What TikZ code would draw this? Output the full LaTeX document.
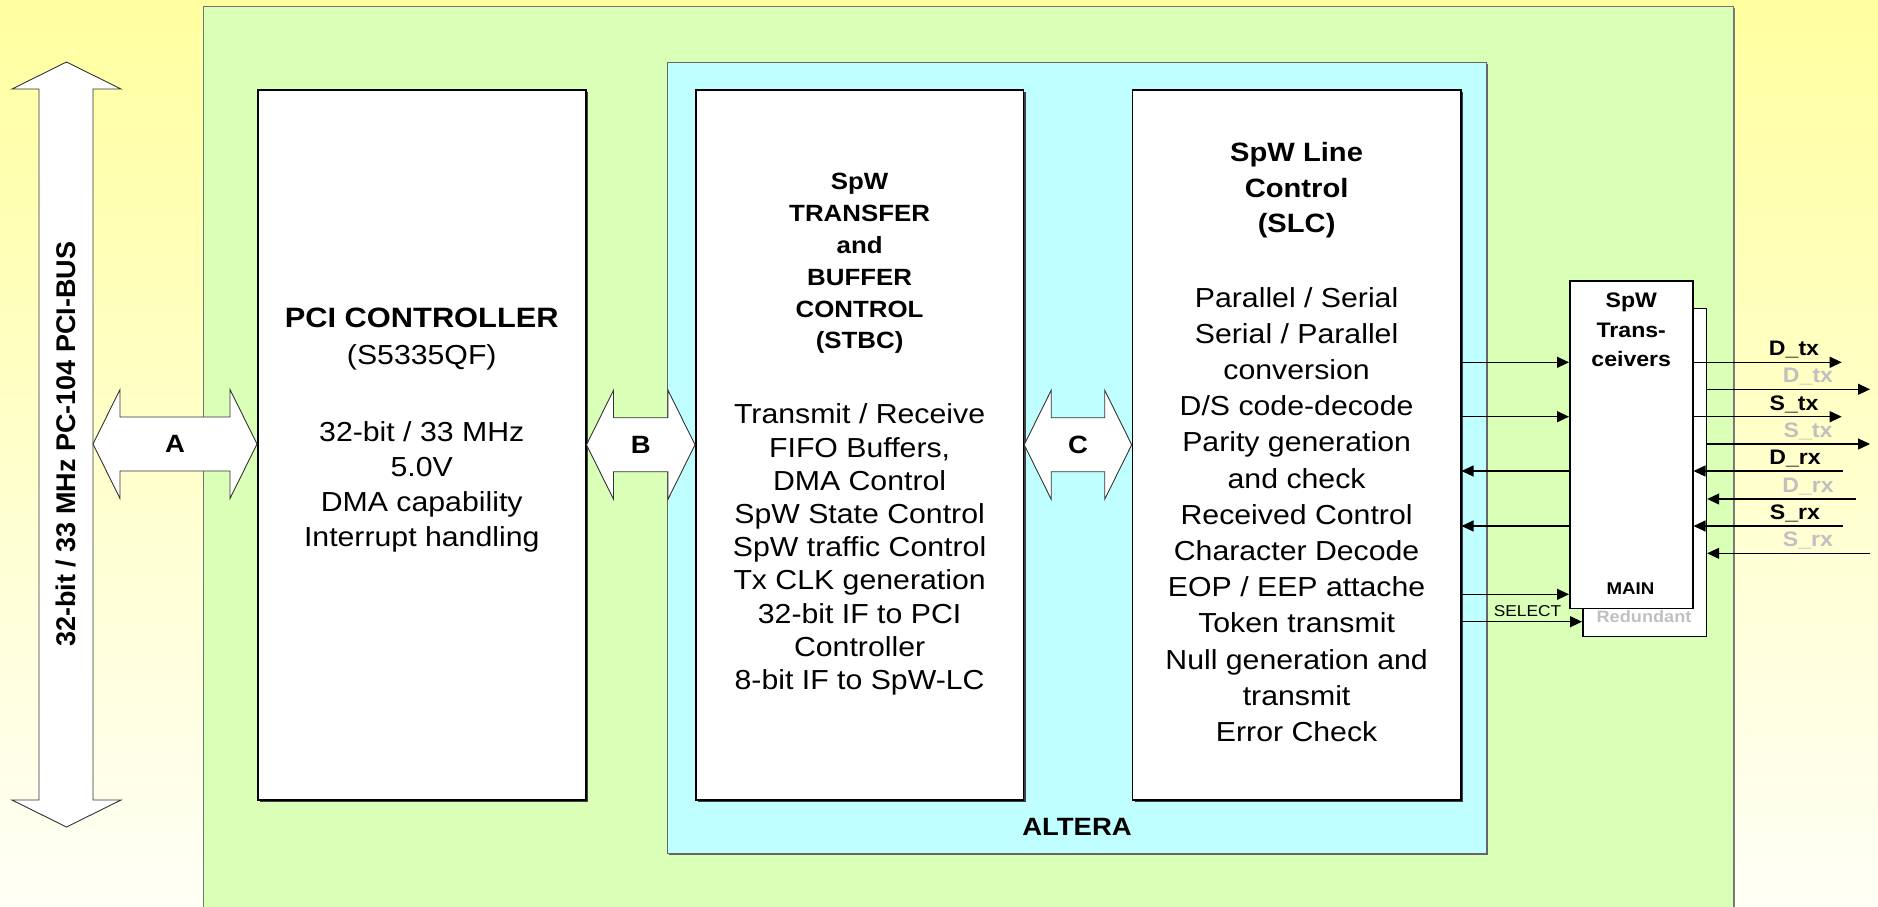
\documentclass[tikz,border=0pt]{standalone}
\usepackage{fontspec}
\setmainfont{Liberation Sans}[FakeStretch=1.1]
\newfontfamily\plainsans{Liberation Sans}
\usetikzlibrary{arrows.meta,calc,shadows}
\definecolor{bgtop}{HTML}{FFFFA0}
\definecolor{bgbot}{HTML}{FFFFF6}
\definecolor{boardc}{HTML}{DAFFB6}
\definecolor{fpgac}{HTML}{C0FFFF}
\definecolor{ghost}{HTML}{C0C0C0}
\newcommand\fs[2]{\fontsize{#1}{#2}\selectfont}
\newcommand\fatarrow[3]{%
  \draw[fatshape] let \p1=#1, \p2=#2 in
    (\x1,\y1) -- ++(27pt,54.5pt) -- ++(0pt,-27.5pt) -- (\x2-27pt,\y1+27pt) -- ++(0pt,27.5pt)
    -- (\x2,\y1) -- ++(-27pt,-54.5pt) -- ++(0pt,27.5pt) -- (\x1+27pt,\y1-27pt) -- ++(0pt,-27.5pt) -- cycle;
  \node[lblbold] at ($#1!0.5!#2$) {#3};}
\begin{document}
\begin{tikzpicture}[x=1pt,y=-1pt,
  blk/.style={draw=black,line width=1.5pt,fill=white,inner sep=0pt,anchor=north west,
    drop shadow={shadow xshift=2.5pt,shadow yshift=-2.5pt,fill=black!75,opacity=1}},
  area/.style={inner sep=0pt,anchor=north west,line width=1pt},
  trx/.style={draw=black,line width=1.5pt,fill=white,inner sep=0pt,anchor=north west},
  fatshape/.style={draw=black!80,line width=0.9pt,fill=white,line join=miter},
  lblbold/.style={inner sep=0pt,font=\fs{25}{30}\bfseries},
  tbody/.style={inner sep=0pt,anchor=base,font=\fs{27.5}{33}},
  sig/.style={line width=1.2pt,-{Triangle[length=12pt,width=11pt]}},
  sigl/.style={inner sep=0pt,anchor=base,font=\fs{21}{25}\bfseries}]
\useasboundingbox (0,0) rectangle (1878,906);
\shade[top color=bgtop,bottom color=bgbot] (0,0) rectangle (1878,906);
% board and FPGA
\node[area,draw=black!55,fill=boardc,minimum width=1530,minimum height=920,
  drop shadow={shadow xshift=1.5pt,shadow yshift=-1.5pt,fill=black!50,opacity=1}] (board) at (203,6) {};
\node[area,draw=black!60,fill=fpgac,minimum width=819,minimum height=791.3,
  drop shadow={shadow xshift=1.5pt,shadow yshift=-1.5pt,fill=black!60,opacity=1}] (fpga) at (667,61.7) {};
\node[lblbold,anchor=base] (alteralbl) at (1077,835) {ALTERA};
% main blocks
\node[blk,minimum width=328,minimum height=710] (pci) at (257,89) {};
\node[blk,minimum width=327.7,minimum height=710] (stbc) at (695,89) {};
\node[blk,minimum width=328.3,minimum height=710] (slc) at (1131.7,89) {};
% PCI text
\path (pci.north) ++(0,238.3) node[tbody,font=\fs{28}{33}\bfseries] (pcit) {PCI CONTROLLER};
\path (pci.north) ++(0,275.8) node[tbody] (pcis) {(S5335QF)};
\foreach \s [count=\i from 0] in {32-bit / 33 MHz,5.0V,DMA capability,Interrupt handling}
  \path (pci.north) ++(0,{352.8+35*\i}) node[tbody] (pcib\i) {\s};
% STBC text
\foreach \s [count=\i from 0] in {SpW,TRANSFER,and,BUFFER,CONTROL,(STBC)}
  \path (stbc.north) ++(0,{100.4+31.9*\i}) node[tbody,font=\fs{23.5}{28}\bfseries] (stbct\i) {\s};
\foreach \s [count=\i from 0] in {Transmit / Receive,{FIFO Buffers,},DMA Control,SpW State Control,SpW traffic Control,Tx CLK generation,32-bit IF to PCI,Controller,8-bit IF to SpW-LC}
  \path (stbc.north) ++(0,{334.8+33.2*\i}) node[tbody] (stbcb\i) {\s};
% SLC text
\foreach \s [count=\i from 0] in {SpW Line,Control,(SLC)}
  \path (slc.north) ++(0,{72.2+35.8*\i}) node[tbody,font=\fs{26.5}{31}\bfseries] (slct\i) {\s};
\foreach \s [count=\i from 0] in {Parallel / Serial,Serial / Parallel,conversion,D/S code-decode,Parity generation,and check,Received Control,Character Decode,EOP / EEP attache,Token transmit,Null generation and,transmit,Error Check}
  \path (slc.north) ++(0,{218.1+36.2*\i}) node[tbody] (slcb\i) {\s};
% PCI bus arrow
\draw[fatshape] (66.5,62) -- (121,89) -- (93,89) -- (93,800) -- (121,800) -- (66.5,827)
  -- (12,800) -- (39,800) -- (39,89) -- (12,89) -- cycle;
\coordinate (busE) at (93,444);
\node[inner sep=0pt,rotate=90,font=\plainsans\fontsize{27}{30}\selectfont\bfseries] (buslbl) at (66,444) {32-bit / 33 MHz PC-104 PCI-BUS};
% fat interface arrows
\fatarrow{(busE)}{(pci.west)}{A}
\fatarrow{(pci.east)}{(stbc.west)}{B}
\fatarrow{(stbc.east)}{(slc.west)}{C}
% transceivers
\node[trx,minimum width=123.7,minimum height=328] (red) at (1582,307.7) {};
\node[trx,minimum width=123,minimum height=327.7] (main) at (1569,280) {};
\foreach \s [count=\i from 0] in {SpW,Trans-,ceivers}
  \path (main.north) ++(0,{27.5+29.5*\i}) node[tbody,font=\fs{21}{25}\bfseries] (trxt\i) {\s};
\node[tbody,font=\fs{17}{20}\bfseries] (mainlbl) at (1630.5,594) {MAIN};
\node[tbody,font=\fs{16.5}{20}\bfseries,text=ghost] (redlbl) at (1644,622.6) {Redundant};
% signal levels
\coordinate (y1) at (0,362.3);
\coordinate (y2) at (0,389.3);
\coordinate (y3) at (0,416.7);
\coordinate (y4) at (0,444);
\coordinate (y5) at (0,471);
\coordinate (y6) at (0,499);
\coordinate (y7) at (0,526);
\coordinate (y8) at (0,553.3);
\coordinate (y9) at (0,594.3);
\coordinate (y10) at (0,621.7);
% SLC <-> transceivers
\draw[sig] (slc.east |- y1) -- (main.west |- y1);
\draw[sig] (slc.east |- y3) -- (main.west |- y3);
\draw[sig] (main.west |- y5) -- (slc.east |- y5);
\draw[sig] (main.west |- y7) -- (slc.east |- y7);
\draw[sig] (slc.east |- y9) -- (main.west |- y9);
\draw[sig] (slc.east |- y10) -- (red.west |- y10);
\node[tbody,font=\fs{15.7}{18}] (sellbl) at (1527.5,616.3) {SELECT};
% line side
\coordinate (dtxE) at (1841.7,362.3);
\coordinate (dtxR) at (1870,389.3);
\coordinate (stxE) at (1841.7,416.7);
\coordinate (stxR) at (1870,444);
\coordinate (drxE) at (1842.7,471);
\coordinate (drxR) at (1856,499);
\coordinate (srxE) at (1842.7,526);
\coordinate (srxR) at (1870,553.3);
\draw[sig] (main.east |- y1) -- (dtxE);
\draw[sig] (red.east |- y2) -- (dtxR);
\draw[sig] (main.east |- y3) -- (stxE);
\draw[sig] (red.east |- y4) -- (stxR);
\draw[sig] (drxE) -- (main.east |- y5);
\draw[sig] (drxR) -- (red.east |- y6);
\draw[sig] (srxE) -- (main.east |- y7);
\draw[sig] (srxR) -- (red.east |- y8);
\node[sigl] (dtxl) at (1794,355.5) {D\_tx};
\node[sigl,text=ghost] (dtxrl) at (1808,382.5) {D\_tx};
\node[sigl] (stxl) at (1794,410.5) {S\_tx};
\node[sigl,text=ghost] (stxrl) at (1808,437.5) {S\_tx};
\node[sigl] (drxl) at (1795,464.8) {D\_rx};
\node[sigl,text=ghost] (drxrl) at (1808,492.5) {D\_rx};
\node[sigl] (srxl) at (1795,519.8) {S\_rx};
\node[sigl,text=ghost] (srxrl) at (1808,546.5) {S\_rx};
\end{tikzpicture}
\end{document}
